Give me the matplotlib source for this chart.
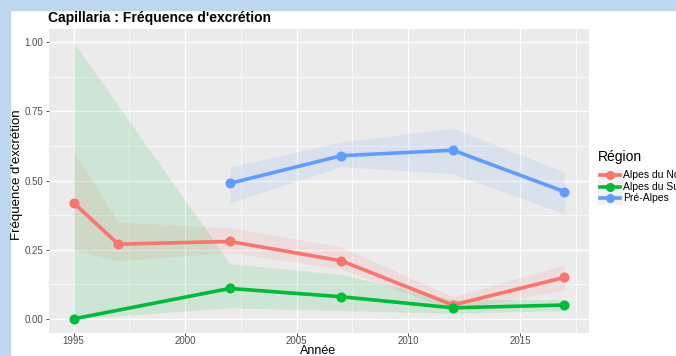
import numpy as np
import matplotlib.pyplot as plt
from matplotlib.lines import Line2D

plt.rcParams['font.family'] = ['Liberation Sans', 'DejaVu Sans']

regions = ['Alpes du Nord', 'Alpes du Sud', 'Pré-Alpes']
colors = ['#F8766D', '#00BA38', '#619CFF']

# frequencies and confidence band per region
years_nord = [1995, 1997, 2002, 2007, 2012, 2017]
freq_nord = [0.42, 0.27, 0.28, 0.21, 0.05, 0.15]
low_nord = [0.25, 0.21, 0.24, 0.18, 0.03, 0.105]
high_nord = [0.605, 0.35, 0.33, 0.26, 0.08, 0.195]

years_sud = [1995, 2002, 2007, 2012, 2017]
freq_sud = [0.00, 0.11, 0.08, 0.04, 0.05]
low_sud = [0.00, 0.04, 0.03, 0.02, 0.03]
high_sud = [1.00, 0.20, 0.16, 0.07, 0.07]

years_pre = [2002, 2007, 2012, 2017]
freq_pre = [0.49, 0.59, 0.61, 0.46]
low_pre = [0.42, 0.55, 0.525, 0.38]
high_pre = [0.55, 0.64, 0.69, 0.53]

series = [
    (years_nord, freq_nord, low_nord, high_nord),
    (years_sud, freq_sud, low_sud, high_sud),
    (years_pre, freq_pre, low_pre, high_pre),
]

W, H = 676, 356
fig = plt.figure(figsize=(W/100, H/100), dpi=100)
fig.patch.set_facecolor('white')

# light blue frame on top and left
fig.patches.append(plt.Rectangle((0, 0), 10/W, 1, transform=fig.transFigure,
                                 color='#BDD7EE', zorder=0))
fig.patches.append(plt.Rectangle((0, 1 - 10/H), 1, 10/H, transform=fig.transFigure,
                                 color='#BDD7EE', zorder=0))

ax = fig.add_axes([49/W, (H-332.7)/H, (589-49)/W, (332.7-28.5)/H])
ax.set_facecolor('#EBEBEB')
for s in ax.spines.values():
    s.set_visible(False)

for (yrs, f, lo, hi), c in zip(series, colors):
    ax.fill_between(yrs, lo, hi, color=c, alpha=0.12, linewidth=0, zorder=2)
for (yrs, f, lo, hi), c in zip(series, colors):
    ax.plot(yrs, f, color=c, linewidth=2.6, marker='o', markersize=6.2,
            solid_capstyle='butt', zorder=3)

ax.set_xlim(1993.9, 2018.1)
ax.set_ylim(-0.05, 1.05)
ax.set_xticks([1995, 2000, 2005, 2010, 2015])
ax.set_xticks([1997.5, 2002.5, 2007.5, 2012.5, 2017.5], minor=True)
ax.set_yticks([0, 0.25, 0.5, 0.75, 1.0])
ax.set_yticklabels(['0.00', '0.25', '0.50', '0.75', '1.00'])
ax.set_yticks([0.125, 0.375, 0.625, 0.875], minor=True)
ax.grid(which='major', color='white', linewidth=1.0, zorder=1)
ax.grid(which='minor', color='white', linewidth=0.5, zorder=1)
ax.set_axisbelow(True)
ax.tick_params(which='major', length=2.5, width=0.6, color='#333333',
               labelsize=7, labelcolor='#4D4D4D', pad=1.5)
ax.tick_params(axis='x', pad=0.5, length=2)
ax.tick_params(which='minor', length=0)

# axis titles and plot title
fig.text(318/W, 1 - 353.5/H, 'Année', fontsize=9, ha='center', va='baseline')
fig.text(17/W, 1 - 175/H, "Fréquence d'excrétion", fontsize=9.5, rotation=90,
         ha='center', va='center')
fig.text(48/W, 1 - 18/H, "Capillaria : Fréquence d'excrétion",
         fontsize=10, fontweight='bold', va='center', ha='left')

# legend drawn by hand, running off the right edge
fig.text(598/W, 1 - 157/H, 'Région', fontsize=10, va='center', ha='left')
key_y = [175, 186.5, 198]
for name, c, y in zip(regions, colors, key_y):
    yf = 1 - y/H
    fig.patches.append(plt.Rectangle((598/W, yf - 5.5/H), 24/W, 11/H,
                                     transform=fig.transFigure, color='#F2F2F2', zorder=1))
    fig.lines.append(Line2D([600/W, 620/W], [yf, yf], transform=fig.transFigure,
                            color=c, linewidth=2.6, zorder=2))
    fig.lines.append(Line2D([610/W], [yf], transform=fig.transFigure, color=c,
                            marker='o', markersize=5.5, zorder=3))
    fig.text(623/W, yf, name, fontsize=7.5, va='center', ha='left')

fig.savefig('out.png', dpi=100)
